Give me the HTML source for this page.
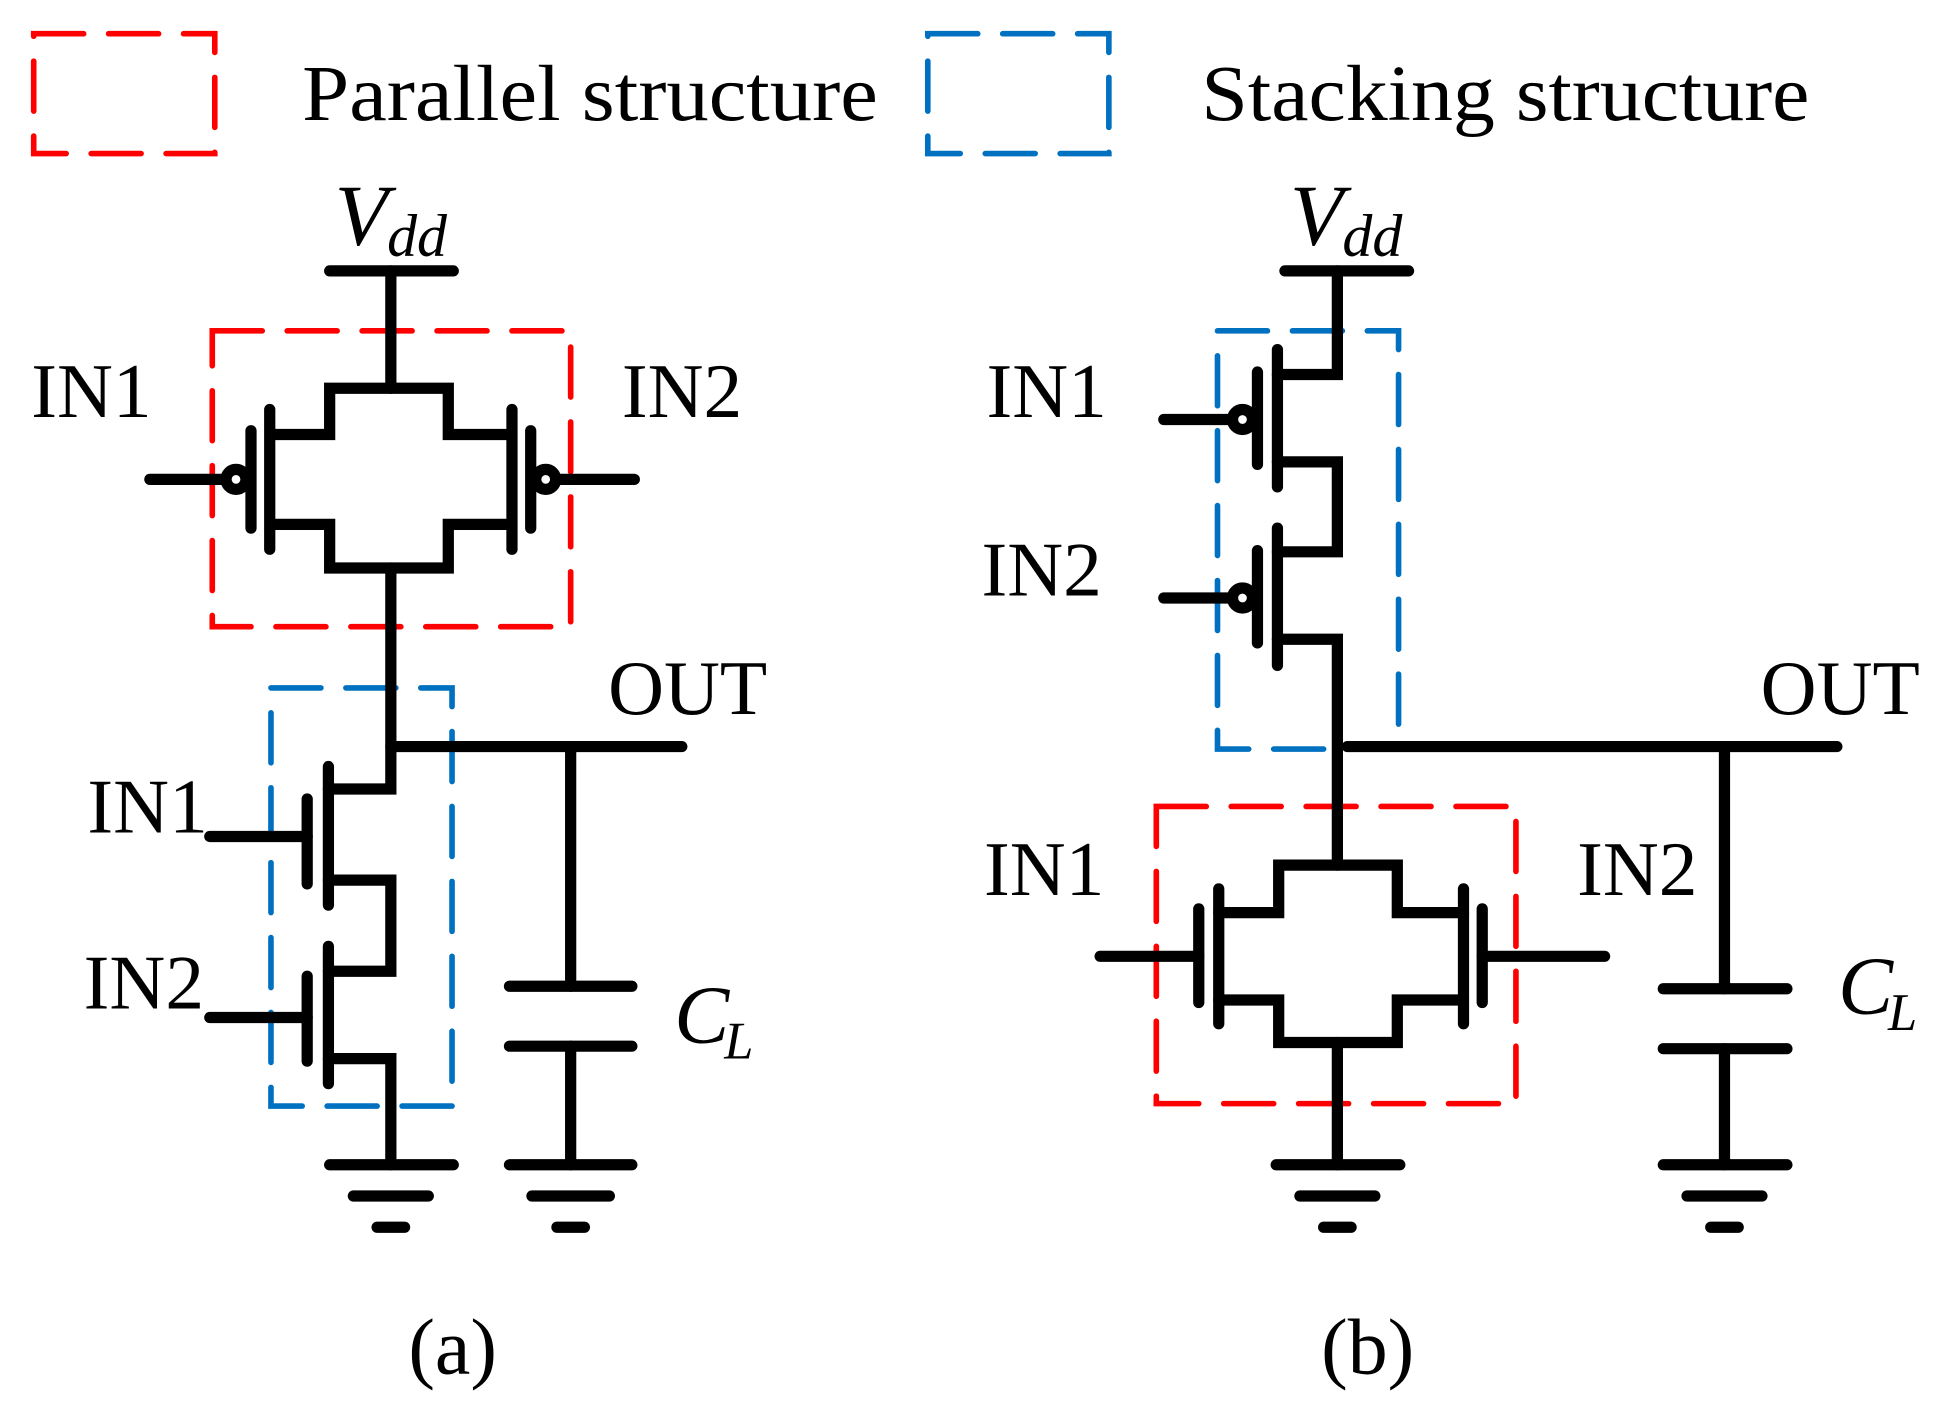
<!DOCTYPE html>
<html><head><meta charset="utf-8"><style>html,body{margin:0;padding:0;background:#fff}svg{display:block}</style></head>
<body>
<svg width="1943" height="1402" viewBox="0 0 1556 1123" preserveAspectRatio="none" xmlns="http://www.w3.org/2000/svg" font-family="Liberation Serif, serif">
<g fill="none" stroke-width="4.5" stroke-dasharray="40 20" stroke-linecap="round">
<rect x="27" y="27" width="145" height="96" stroke="#ff0000"/>
<rect x="743" y="27" width="145" height="96" stroke="#0070c0"/>
<rect x="170" y="265" width="287" height="237" stroke="#ff0000"/>
<rect x="217" y="551" width="145" height="335" stroke="#0070c0"/>
<rect x="975" y="265" width="145" height="335" stroke="#0070c0"/>
<rect x="926" y="646" width="288" height="238" stroke="#ff0000"/>
</g>
<g fill="#000" font-size="64">
<text x="242" y="96" textLength="461" lengthAdjust="spacingAndGlyphs">Parallel structure</text>
<text x="962" y="96" textLength="487" lengthAdjust="spacingAndGlyphs">Stacking structure</text>
<text x="268" y="196" font-style="italic" font-size="70">V</text><text x="310" y="205" font-style="italic" font-size="48">dd</text>
<text x="1033" y="196" font-style="italic" font-size="70">V</text><text x="1075" y="205" font-style="italic" font-size="48">dd</text>
<text x="25" y="334" font-size="62">IN1</text>
<text x="498" y="334" font-size="62">IN2</text>
<text x="487" y="572" font-size="62">OUT</text>
<text x="70" y="667" font-size="62">IN1</text>
<text x="67" y="808" font-size="62">IN2</text>
<text x="540" y="835" font-style="italic" font-size="66">C</text><text x="580" y="848" font-style="italic" font-size="42">L</text>
<text x="327" y="1100">(a)</text>
<text x="790" y="334" font-size="62">IN1</text>
<text x="786" y="477" font-size="62">IN2</text>
<text x="1410" y="572" font-size="62">OUT</text>
<text x="788" y="717" font-size="62">IN1</text>
<text x="1263" y="717" font-size="62">IN2</text>
<text x="1472" y="812" font-style="italic" font-size="66">C</text><text x="1512" y="825" font-style="italic" font-size="42">L</text>
<text x="1058" y="1100">(b)</text>
</g>
<g fill="none" stroke="#000" stroke-width="9" stroke-linecap="round" stroke-linejoin="miter">
<!-- (a) -->
<line x1="264" y1="217" x2="363" y2="217"/>
<polyline points="313,217 313,311"/>
<polyline points="217,348 264,348 264,311 359,311 359,348 410,348"/>
<polyline points="217,420 264,420 264,455 359,455 359,420 410,420"/>
<line x1="216" y1="328" x2="216" y2="440"/><line x1="201" y1="345" x2="201" y2="423"/>
<line x1="410" y1="328" x2="410" y2="440"/><line x1="425" y1="345" x2="425" y2="423"/>
<circle cx="189" cy="384" r="8"/><circle cx="437" cy="384" r="8"/>
<line x1="120" y1="384" x2="180" y2="384"/><line x1="446" y1="384" x2="508" y2="384"/>
<polyline points="313,455 313,632 263,632"/>
<line x1="313" y1="598" x2="546" y2="598"/>
<line x1="263" y1="614" x2="263" y2="725"/><line x1="246" y1="640" x2="246" y2="708"/>
<line x1="168" y1="670" x2="246" y2="670"/>
<polyline points="263,705 313,705 313,778 263,778"/>
<line x1="263" y1="758" x2="263" y2="868"/><line x1="246" y1="782" x2="246" y2="850"/>
<line x1="168" y1="815" x2="246" y2="815"/>
<polyline points="263,848 313,848 313,933"/>
<line x1="264" y1="933" x2="363" y2="933"/><line x1="283" y1="958" x2="343" y2="958"/><line x1="302" y1="983" x2="324" y2="983"/>
<line x1="457" y1="598" x2="457" y2="790"/>
<line x1="408" y1="790" x2="506" y2="790"/><line x1="408" y1="838" x2="506" y2="838"/>
<line x1="457" y1="838" x2="457" y2="933"/>
<line x1="408" y1="933" x2="506" y2="933"/><line x1="426" y1="958" x2="488" y2="958"/><line x1="446" y1="983" x2="468" y2="983"/>
<!-- (b) -->
<line x1="1029" y1="217" x2="1128" y2="217"/>
<polyline points="1071,217 1071,300 1023,300"/>
<line x1="1023" y1="280" x2="1023" y2="390"/><line x1="1007" y1="298" x2="1007" y2="372"/>
<circle cx="995" cy="336" r="8"/><line x1="932" y1="336" x2="987" y2="336"/>
<polyline points="1023,370 1071,370 1071,442 1023,442"/>
<line x1="1023" y1="423" x2="1023" y2="533"/><line x1="1007" y1="441" x2="1007" y2="515"/>
<circle cx="995" cy="479" r="8"/><line x1="932" y1="479" x2="987" y2="479"/>
<polyline points="1023,512 1071,512 1071,693"/>
<line x1="1079" y1="598" x2="1471" y2="598"/>
<polyline points="976,731 1024,731 1024,693 1119,693 1119,731 1172,731"/>
<polyline points="976,801 1024,801 1024,835 1119,835 1119,801 1172,801"/>
<line x1="976" y1="712" x2="976" y2="820"/><line x1="960" y1="728" x2="960" y2="803"/>
<line x1="1172" y1="712" x2="1172" y2="820"/><line x1="1187" y1="728" x2="1187" y2="803"/>
<line x1="881" y1="766" x2="960" y2="766"/><line x1="1187" y1="766" x2="1285" y2="766"/>
<line x1="1071" y1="835" x2="1071" y2="933"/>
<line x1="1022" y1="933" x2="1121" y2="933"/><line x1="1041" y1="958" x2="1101" y2="958"/><line x1="1060" y1="983" x2="1082" y2="983"/>
<line x1="1381" y1="598" x2="1381" y2="792"/>
<line x1="1332" y1="792" x2="1431" y2="792"/><line x1="1332" y1="840" x2="1431" y2="840"/>
<line x1="1381" y1="840" x2="1381" y2="933"/>
<line x1="1332" y1="933" x2="1431" y2="933"/><line x1="1351" y1="958" x2="1411" y2="958"/><line x1="1370" y1="983" x2="1392" y2="983"/>
</g>
</svg>
</body></html>
